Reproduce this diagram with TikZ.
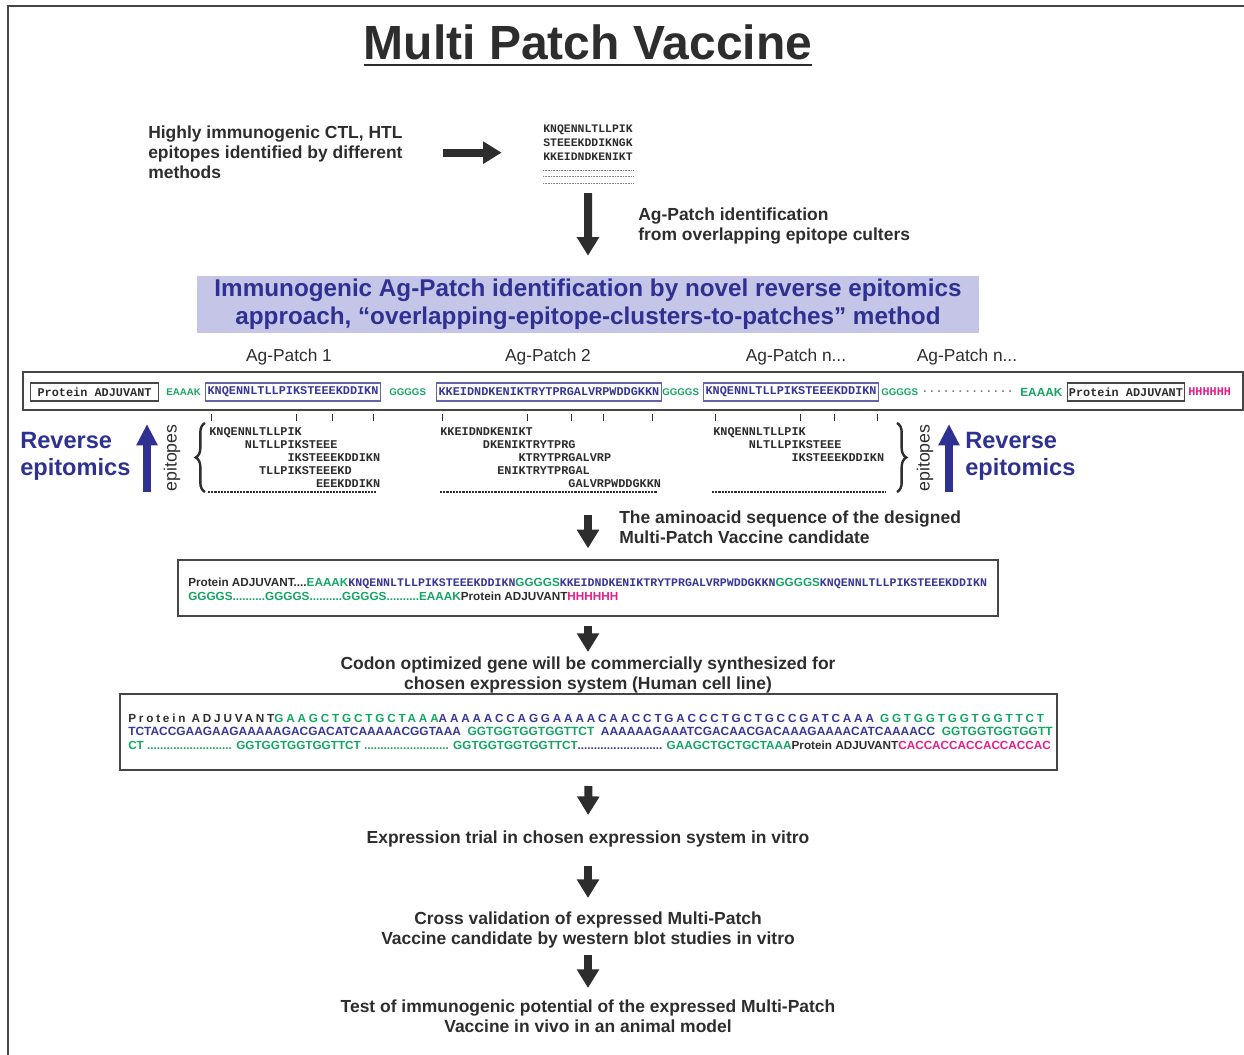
\documentclass[tikz,border=0pt]{standalone}
\usepackage{fontspec}
\setmainfont{Liberation Sans}
\setmonofont{Liberation Mono}
\newfontfamily\trackedsans{Liberation Sans}[LetterSpace=24]
\usetikzlibrary{arrows.meta,calc,decorations.pathreplacing}

\definecolor{inkgray}{RGB}{45,45,45}
\definecolor{boxgray}{RGB}{70,70,70}
\definecolor{epiblue}{RGB}{46,49,146}
\definecolor{seqblue}{RGB}{55,55,150}
\definecolor{linkgreen}{RGB}{20,165,100}
\definecolor{hismagenta}{RGB}{230,30,140}
\definecolor{bannerfill}{RGB}{197,197,232}

\newcommand\seqfont{\ttfamily\bfseries\fontsize{8.9}{10}\selectfont}
\newcommand\flowfont{\bfseries\fontsize{13.1}{15}\selectfont}
\newcommand\aamono{\ttfamily\fontsize{8.7}{10}\selectfont}

\begin{document}
\begin{tikzpicture}[x=0.75pt,y=0.75pt,yscale=-1,xscale=1,
  every node/.style={inner sep=0pt,text=inkgray},
  flowtext/.style={font=\flowfont,align=center},
  bigarrow/.style={draw=inkgray,line width=6pt,-{Triangle[width=16pt,length=14pt]}},
  bluearrow/.style={draw=epiblue,line width=6pt,-{Triangle[width=15pt,length=16pt]}},
  outerbox/.style={draw=boxgray,line width=1.5pt},
  seqbox/.style={draw=boxgray,line width=0.9pt,font=\seqfont,minimum height=13.5pt,anchor=west},
  patchbox/.style={seqbox,draw={rgb,255:red,100;green,100;blue,170},text=seqblue,inner xsep=1.5pt},
  linker/.style={font=\bfseries\fontsize{7.3}{8}\selectfont,text=linkgreen,anchor=west},
  epitope/.style={font=\seqfont,anchor=base west},
  patchlabel/.style={font=\fontsize{13}{15}\selectfont,anchor=base},
  revtext/.style={font=\bfseries\fontsize{17.7}{20}\selectfont,text=epiblue,align=left,anchor=north west},
  sidelabel/.style={font=\fontsize{13.3}{15}\selectfont,rotate=90},
  tick/.style={draw=inkgray,line width=0.6pt},
  dashline/.style={draw=inkgray,line width=0.8pt,dash pattern=on 1.6pt off 0.8pt},
  seqdots/.style={draw=gray,line width=0.5pt,dash pattern=on 0.5pt off 0.7pt},
  brace/.style={draw=inkgray,line width=1.8pt,decorate,decoration={brace,amplitude=7pt}}]
\useasboundingbox (0,0) rectangle (1244,1055);

%Straight Lines: frame
\draw [draw=boxgray,line width=1.8pt] (8,1056) -- (8,6) -- (1245,6) ;

% Text Node: title
\draw (588,60) node [anchor=base,font=\bfseries\fontsize{36}{40}\selectfont] (title) {Multi Patch Vaccine};
\draw [draw=inkgray,line width=1.5pt] ($(title.base west)+(0,5)$) -- ($(title.base east)+(0,5)$) ;

% Text Node
\draw (148,126) node [anchor=north west,font=\flowfont,align=left] (hilite) {Highly immunogenic CTL, HTL\\epitopes identified by different\\methods};
% Text Node
\draw (543,125) node [anchor=north west,align=left,font=\ttfamily\bfseries\fontsize{8.6}{10.5}\selectfont] (seqlist) {KNQENNLTLLPIK\\STEEEKDDIKNGK\\KKEIDNDKENIKT};
\draw [seqdots] (543,170) -- (633,170) (543,176.5) -- (633,176.5) (543,183) -- (633,183) ;
\draw [bigarrow,shorten <=30pt,shorten >=31pt] (hilite.east) -- (hilite.east -| seqlist.west) ;

% Text Node
\draw (638,208) node [anchor=north west,font=\flowfont,align=left] (apid) {Ag-Patch identification\\from overlapping epitope culters};

%Shape: Rectangle (banner)
\draw (588,304.5) node [fill=bannerfill,minimum width=586.5pt,minimum height=42.75pt,align=center,font=\bfseries\fontsize{18.2}{21}\selectfont,text=epiblue] (banner) {Immunogenic Ag-Patch identification by novel reverse epitomics\\approach, “overlapping-epitope-clusters-to-patches” method};
\draw [bigarrow,shorten <=24pt,shorten >=15pt] (seqlist.south) -- (banner.north) ;

% Text Node: patch labels
\draw (289,361) node [patchlabel] (apA) {Ag-Patch 1};
\draw (548,361) node [patchlabel] (apB) {Ag-Patch 2};
\draw (796,361) node [patchlabel] (apC) {Ag-Patch n...};
\draw (967,361) node [patchlabel] (apD) {Ag-Patch n...};

%Shape: Rectangle (construct bar)
\draw (633,391) node [outerbox,minimum width=915pt,minimum height=28.5pt] (bar) {};
\draw (30,392) node [seqbox,inner xsep=5.25pt] (adjA) {Protein ADJUVANT};
\draw (166,392) node [linker] (lkA) {EAAAK};
\draw (205,392) node [patchbox] (patchA) {KNQENNLTLLPIKSTEEEKDDIKN};
\draw (389,392) node [linker] (lkB) {GGGGS};
\draw (436,392) node [patchbox] (patchB) {KKEIDNDKENIKTRYTPRGALVRPWDDGKKN};
\draw (662,392) node [linker] (lkC) {GGGGS};
\draw (703,392) node [patchbox] (patchC) {KNQENNLTLLPIKSTEEEKDDIKN};
\draw (881,392) node [linker] (lkD) {GGGGS};
\draw (921,392) node [anchor=west,font=\seqfont,text=gray] (gap) {.............};
\draw (1020,392) node [linker,font=\bfseries\fontsize{8.9}{10}\selectfont] (lkE) {EAAAK};
\draw (1067,392) node [seqbox,inner xsep=1pt] (adjB) {Protein ADJUVANT};
\draw (1188,392) node [anchor=west,font=\seqfont,text=hismagenta] (histag) {HHHHHH};

%Straight Lines: ticks
\draw [tick] (211,414) -- (211,421) (296,414) -- (296,421) (332,414) -- (332,421) (373,414) -- (373,421)
  (442,414) -- (442,421) (527,414) -- (527,421) (571,414) -- (571,421) (603,414) -- (603,421) (652,414) -- (652,421)
  (715,414) -- (715,421) (800,414) -- (800,421) (834,414) -- (834,421) (877,414) -- (877,421) ;

% Text Node: epitopes of patch 1
\draw (209,435) node [epitope] (ep1a) {KNQENNLTLLPIK};
\draw (244.6,448) node [epitope] (ep1b) {NLTLLPIKSTEEE};
\draw (287.3,461) node [epitope] (ep1c) {IKSTEEEKDDIKN};
\draw (258.8,474) node [epitope] (ep1d) {TLLPIKSTEEEKD};
\draw (315.8,487) node [epitope] (ep1e) {EEEKDDIKN};
\draw [dashline] (208,492) -- (376,492) ;
% Text Node: epitopes of patch 2
\draw (440,435) node [epitope] (ep2a) {KKEIDNDKENIKT};
\draw (482.7,448) node [epitope] (ep2b) {DKENIKTRYTPRG};
\draw (518.3,461) node [epitope] (ep2c) {KTRYTPRGALVRP};
\draw (497,474) node [epitope] (ep2d) {ENIKTRYTPRGAL};
\draw (568.2,487) node [epitope] (ep2e) {GALVRPWDDGKKN};
\draw [dashline] (440,492) -- (657,492) ;
% Text Node: epitopes of patch n
\draw (713,435) node [epitope] (ep3a) {KNQENNLTLLPIK};
\draw (748.6,448) node [epitope] (ep3b) {NLTLLPIKSTEEE};
\draw (791.3,461) node [epitope] (ep3c) {IKSTEEEKDDIKN};
\draw [dashline] (712,492) -- (885,492) ;

%Shape: Braces
\draw [brace] (205,492) -- (205,423) ;
\draw [brace] (897,423) -- (897,492) ;
\draw (172,458) node [sidelabel] (epiL) {epitopes};
\draw (925,458) node [sidelabel] (epiR) {epitopes};

% Reverse epitomics
\draw (20,432) node [revtext] (revL) {Reverse\\epitomics};
\draw (965,432) node [revtext] (revR) {Reverse\\epitomics};
\coordinate (upLa) at (147,492);
\coordinate (upLb) at (147,424);
\coordinate (upRa) at (949,492);
\coordinate (upRb) at (949,424);
\draw [bluearrow] (upLa) -- (upLb) ;
\draw [bluearrow] (upRa) -- (upRb) ;

% Text Node
\draw (619,511) node [anchor=north west,font=\flowfont,align=left] (aanote) {The aminoacid sequence of the designed\\Multi-Patch Vaccine candidate};

%Shape: Rectangle (amino acid sequence)
\draw (588,588) node [outerbox,minimum width=615pt,minimum height=42pt] (aaseq) {};
\draw (188,586) node [anchor=base west,font=\bfseries\fontsize{8.8}{10}\selectfont] (aaline1) {Protein ADJUVANT....\textcolor{linkgreen}{EAAAK}{\aamono\textcolor{seqblue}{KNQENNLTLLPIKSTEEEKDDIKN}}\textcolor{linkgreen}{GGGGS}{\aamono\textcolor{seqblue}{KKEIDNDKENIKTRYTPRGALVRPWDDGKKN}}\textcolor{linkgreen}{GGGGS}{\aamono\textcolor{seqblue}{KNQENNLTLLPIKSTEEEKDDIKN}}};
\draw (188,600) node [anchor=base west,font=\bfseries\fontsize{8.8}{10}\selectfont] (aaline2) {\textcolor{linkgreen}{GGGGS..........GGGGS..........GGGGS..........EAAAK}Protein ADJUVANT\textcolor{hismagenta}{HHHHHH}};
\draw [bigarrow,shorten <=21pt,shorten >=8pt] (aaseq.north |- ep2e.south) -- (aaseq.north) ;

% Text Node
\draw (588,657) node [anchor=north,flowtext] (codon) {Codon optimized gene will be commercially synthesized for\\chosen expression system (Human cell line)};
\draw [bigarrow,shorten <=6.75pt,shorten >=3.75pt] (aaseq.south) -- (codon.north) ;

%Shape: Rectangle (nucleotide sequence)
\draw (588.5,732) node [outerbox,minimum width=702.75pt,minimum height=57pt] (ntseq) {};
\draw (128,722) node [anchor=base west,font=\trackedsans\bfseries\fontsize{8.8}{10}\selectfont] (ntline1) {Protein ADJUVANT\textcolor{linkgreen}{GAAGCTGCTGCTAAA}\textcolor{seqblue}{AAAAACCAGGAAAACAACCTGACCCTGCTGCCGATCAAA} \textcolor{linkgreen}{GGTGGTGGTGGTTCT}};
\draw (128,735) node [anchor=base west,font=\bfseries\fontsize{8.95}{10}\selectfont] (ntline2) {\textcolor{seqblue}{TCTACCGAAGAAGAAAAAGACGACATCAAAAACGGTAAA}\ \ \textcolor{linkgreen}{GGTGGTGGTGGTTCT}\ \ \textcolor{seqblue}{AAAAAAGAAATCGACAACGACAAAGAAAACATCAAAACC}\ \ \textcolor{linkgreen}{GGTGGTGGTGGTT}};
\draw (128,749) node [anchor=base west,font=\bfseries\fontsize{8.8}{10}\selectfont] (ntline3) {\textcolor{linkgreen}{CT .......................... GGTGGTGGTGGTTCT .......................... GGTGGTGGTGGTTCT}\textcolor{seqblue}{..........................} \textcolor{linkgreen}{GAAGCTGCTGCTAAA}Protein ADJUVANT\textcolor{hismagenta}{CACCACCACCACCACCAC}};

% Text Node
\draw (588,843) node [anchor=base,flowtext] (expr) {Expression trial in chosen expression system in vitro};
\draw [bigarrow,shorten <=11.25pt,shorten >=11.25pt] (ntseq.south) -- (expr.north) ;

% Text Node
\draw (588,912) node [anchor=north,flowtext] (cross) {Cross validation of expressed Multi-Patch\\Vaccine candidate by western blot studies in vitro};
\draw [bigarrow,shorten <=14pt,shorten >=10.5pt] (expr.south) -- (cross.north) ;

% Text Node
\draw (588,1000) node [anchor=north,flowtext] (test) {Test of immunogenic potential of the expressed Multi-Patch\\Vaccine in vivo in an animal model};
\draw [bigarrow,shorten <=5pt,shorten >=9pt] (cross.south) -- (test.north) ;

\end{tikzpicture}
\end{document}
